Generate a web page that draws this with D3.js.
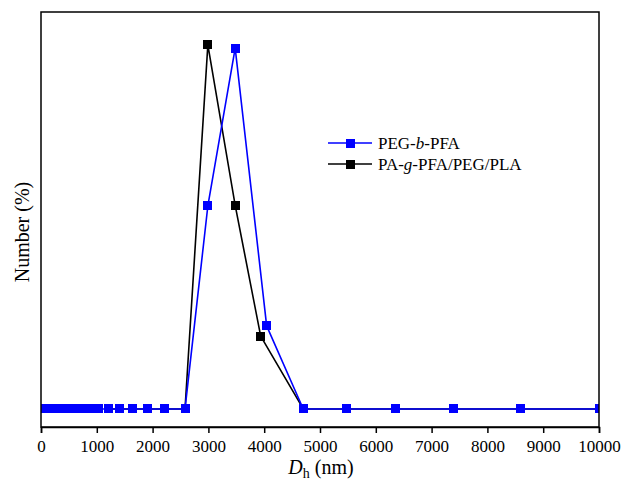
<!DOCTYPE html>
<html>
<head>
<meta charset="utf-8">
<script src="https://cdn.jsdelivr.net/npm/d3@7"></script>
<style>
  html, body { margin: 0; padding: 0; background: #fff; }
  svg { display: block; }
  text { font-family: "Times New Roman", "Liberation Serif", serif; fill: #000; }
</style>
</head>
<body>
<svg id="chart" width="623" height="488"></svg>
<script>
// Hydrodynamic diameter bins (nm), log-spaced
const sizeBins = [0.42, 0.49, 0.57, 0.66, 0.77, 0.9, 1.04, 1.2, 1.4, 1.6, 1.9, 2.2, 2.6, 3.0, 3.5, 4.0,
  4.7, 5.4, 6.3, 7.3, 8.5, 9.9, 11.5, 13.4, 15.5, 18, 21, 24, 28, 33, 38, 44, 52, 60, 70, 81, 94,
  109, 127, 147, 171, 199, 231, 269, 312, 363, 422, 490, 569, 662, 769, 893, 1038, 1206, 1401,
  1645, 1903, 2222, 2581, 2990, 3480, 4044, 4700, 5478, 6362, 7401, 8597, 10000];

// Number distribution (%) of PEG-b-PFA, one value per bin
const pegNumber = [0, 0, 0, 0, 0, 0, 0, 0, 0, 0, 0, 0, 0, 0, 0, 0,
  0, 0, 0, 0, 0, 0, 0, 0, 0, 0, 0, 0, 0, 0, 0, 0, 0, 0, 0, 0, 0,
  0, 0, 0, 0, 0, 0, 0, 0, 0, 0, 0, 0, 0, 0, 0, 0, 0, 0,
  0, 0, 0, 0, 31.5, 56.0, 12.9, 0, 0, 0, 0, 0, 0];

// PA-g-PFA/PEG/PLA measured bins (nm) and number distribution (%)
const paSizes = [1206, 1401, 1645, 1903, 2222, 2581, 2990, 3480, 3937, 4700, 5478, 6362, 7401, 8597, 10000];
const paNumber = [0, 0, 0, 0, 0, 0, 56.5, 31.6, 11.3, 0, 0, 0, 0, 0, 0];

const xTicks = [0, 1000, 2000, 3000, 4000, 5000, 6000, 7000, 8000, 9000, 10000];
const seriesColors = ["#0000ff", "#000000"];

const svg = d3.select("#chart");
const W = 623, H = 488;
const m = { left: 41, right: 24, top: 12, bottom: 61 };
const x0 = m.left, x1 = W - m.right, y0 = H - m.bottom, y1 = m.top;

svg.append("rect").attr("width", W).attr("height", H).attr("fill", "#fff");

const x = d3.scaleLinear().domain([0, 10000]).range([x0, x1]);
const y = d3.scaleLinear().domain([-2.8, 61.6]).range([y0, y1]);

svg.append("defs").append("clipPath").attr("id", "plotClip")
  .append("rect").attr("x", x0).attr("y", y1).attr("width", x1 - x0).attr("height", y0 - y1);

const plot = svg.append("g").attr("clip-path", "url(#plotClip)");
const line = d3.line().x(d => x(d[0])).y(d => y(d[1]));
const MS = 9;

function drawSeries(xs, ys, color) {
  const pts = xs.map((v, i) => [v, ys[i]]);
  plot.append("path").datum(pts)
    .attr("d", line).attr("fill", "none")
    .attr("stroke", color).attr("stroke-width", 1.6).attr("stroke-linejoin", "round");
  plot.append("g").attr("shape-rendering", "crispEdges")
    .selectAll("rect").data(pts).join("rect")
    .attr("x", d => x(d[0]) - MS / 2).attr("y", d => y(d[1]) - MS / 2)
    .attr("width", MS).attr("height", MS).attr("fill", color);
}

drawSeries(paSizes, paNumber, seriesColors[1]);
drawSeries(sizeBins, pegNumber, seriesColors[0]);

// Frame
svg.append("rect").attr("x", x0).attr("y", y1).attr("width", x1 - x0).attr("height", y0 - y1)
  .attr("fill", "none").attr("stroke", "#000").attr("stroke-width", 1.5);

// Bottom axis with outward ticks
const xAxis = d3.axisBottom(x).tickValues(xTicks).tickSize(6).tickPadding(7).tickFormat(d3.format("d"));
const gx = svg.append("g").attr("transform", `translate(0,${y0})`).call(xAxis);
gx.select(".domain").attr("stroke-width", 1.5);
gx.selectAll(".tick line").attr("stroke-width", 1.5);
gx.selectAll(".tick text").attr("font-size", 17)
  .attr("font-family", "'Times New Roman', 'Liberation Serif', serif").attr("fill", "#000");

// Axis titles
const xt = svg.append("text").attr("x", 321).attr("y", 474).attr("text-anchor", "middle").attr("font-size", 20);
xt.append("tspan").attr("font-style", "italic").text("D");
xt.append("tspan").attr("font-size", 14).attr("dy", 4).text("h");
xt.append("tspan").attr("dy", -4).text(" (nm)");

svg.append("text")
  .attr("transform", "translate(29,232) rotate(-90)")
  .attr("text-anchor", "middle").attr("font-size", 20)
  .text("Number (%)");

// Legend
const legendRows = [
  { parts: [["PEG-", false], ["b", true], ["-PFA", false]], color: seriesColors[0], y: 143 },
  { parts: [["PA-", false], ["g", true], ["-PFA/PEG/PLA", false]], color: seriesColors[1], y: 164 }
];
const lg = svg.append("g");
legendRows.forEach(r => {
  lg.append("line").attr("x1", 328).attr("x2", 372).attr("y1", r.y).attr("y2", r.y)
    .attr("stroke", r.color).attr("stroke-width", 1.6);
  lg.append("rect").attr("x", 350 - MS / 2).attr("y", r.y - MS / 2).attr("width", MS).attr("height", MS)
    .attr("fill", r.color).attr("shape-rendering", "crispEdges");
  const t = lg.append("text").attr("x", 378).attr("y", r.y + 6).attr("font-size", 17);
  r.parts.forEach(p => t.append("tspan").attr("font-style", p[1] ? "italic" : "normal").text(p[0]));
});
</script>
</body>
</html>
